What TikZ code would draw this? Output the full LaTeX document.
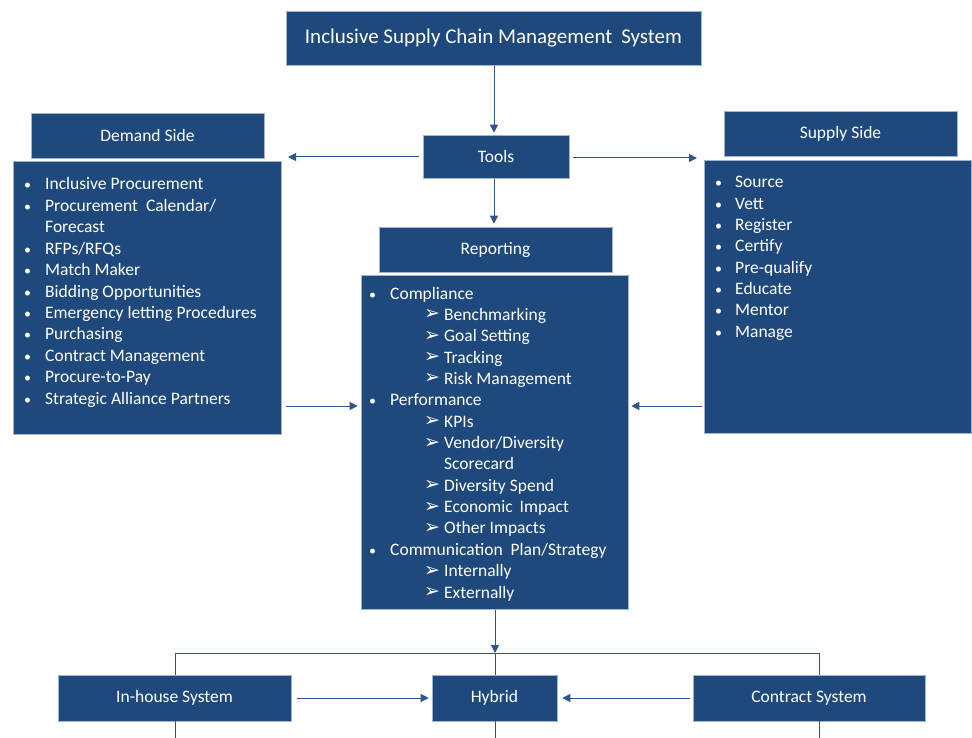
\documentclass[tikz,border=0pt]{standalone}
\usepackage{fontspec}
\setmainfont{Carlito}
\newfontfamily\djv{DejaVu Sans}
\usetikzlibrary{arrows.meta}
\definecolor{boxblue}{RGB}{31,73,125}
\definecolor{arrblue}{RGB}{47,85,140}
\definecolor{edgeblue}{RGB}{160,180,205}
\tikzset{
  box/.style={rectangle, fill=boxblue, draw=edgeblue, line width=0.6pt, text=white, inner sep=0pt, font=\fontsize{17.5}{20}\selectfont},
  arr/.style={draw=arrblue, line width=1pt, -{Triangle[width=8pt,length=8pt]}},
  ln/.style={draw=arrblue, line width=1pt},
  item/.style={anchor=base west, inner sep=0pt, text=white, font=\fontsize{17.5}{20}\selectfont},
  bul/.style={anchor=base west, inner sep=0pt, text=white, font=\fontsize{14}{18}\selectfont},
  abul/.style={anchor=base west, inner sep=0pt, text=white, font=\djv\fontsize{19}{20}\selectfont},
}
\begin{document}
\begin{tikzpicture}[x=1pt,y=-1pt]
\useasboundingbox (0,0) rectangle (972,738);
% boxes
\node[box, minimum width=415, minimum height=54, font=\fontsize{21}{24}\selectfont] (title) at (493.5,38) {Inclusive Supply Chain Management\hspace{4pt} System};
\node[box, minimum width=146, minimum height=43] (tools) at (496,156.5) {Tools};
\node[box, minimum width=233, minimum height=45] (rhead) at (495.5,249.5) {Reporting};
\node[box, minimum width=267, minimum height=334] (rbody) at (494.5,442) {};
\node[box, minimum width=233, minimum height=45] (dhead) at (147.5,135.5) {Demand Side};
\node[box, minimum width=268, minimum height=273] (dbody) at (147,297.5) {};
\node[box, minimum width=233, minimum height=45] (shead) at (840.5,133.5) {Supply Side};
\node[box, minimum width=267, minimum height=273] (sbody) at (837.5,296.5) {};
\node[box, minimum width=233, minimum height=46] (inhouse) at (174.5,698) {In-house System};
\node[box, minimum width=125, minimum height=46] (hybrid) at (494.5,698) {Hybrid};
\node[box, minimum width=232, minimum height=46] (contract) at (809,698) {Contract System};
% demand items
\foreach \k/\t in {0/{Inclusive Procurement},1/{Procurement\hspace{4pt} Calendar/},2/{Forecast},3/{RFPs/RFQs},4/{Match Maker},5/{Bidding Opportunities},6/{Emergency letting Procedures},7/{Purchasing},8/{Contract Management},9/{Procure-to-Pay},10/{Strategic Alliance Partners}}
  \node[item] (dt\k) at (45,190+21.4*\k) {\t};
\foreach \k in {0,1,3,4,5,6,7,8,9,10}
  \node[bul] (db\k) at (24,190+21.4*\k) {•};
% supply items
\foreach \k/\t in {0/{Source},1/{Vett},2/{Register},3/{Certify},4/{Pre-qualify},5/{Educate},6/{Mentor},7/{Manage}}
  {\node[item] (st\k) at (735,188+21.3*\k) {\t};
   \node[bul] (sb\k) at (715,188+21.3*\k) {•};}
% reporting items
\foreach \k/\t in {0/{Compliance},5/{Performance},12/{Communication\hspace{4pt} Plan/Strategy}}
  {\node[item] (rt\k) at (390,299+21.36*\k) {\t};
   \node[bul] (rb\k) at (369,299+21.36*\k) {•};}
\foreach \k/\t in {1/{Benchmarking},2/{Goal Setting},3/{Tracking},4/{Risk Management},6/{KPIs},7/{Vendor/Diversity},8/{Scorecard},9/{Diversity Spend},10/{Economic\hspace{3pt} Impact},11/{Other Impacts},13/{Internally},14/{Externally}}
  \node[item] (rt\k) at (444,299+21.36*\k) {\t};
\foreach \k in {1,2,3,4,6,7,9,10,11,13,14}
  \node[abul] (ra\k) at (424,298.5+21.36*\k) {➢};
% connectors
\draw[arr, shorten <=1pt, shorten >=2pt] (title.south -| 494,0) -- (tools.north -| 494,0);
\draw[arr, shorten >=3pt, shorten <=1pt] (tools.south -| 494,0) -- (rhead.north -| 494,0);
\coordinate (tdl) at (419,157);
\coordinate (tdr) at (288,157);
\draw[arr] (tdl) -- (tdr);
\coordinate (tsl) at (573,158);
\coordinate (tsr) at (697,158);
\draw[arr] (tsl) -- (tsr);
\coordinate (dr) at (286,406);
\draw[arr, shorten >=3pt] (dr) -- (rbody.west |- dr);
\coordinate (sr) at (702,406);
\draw[arr, shorten >=3pt] (sr) -- (rbody.east |- sr);
% bottom tree
\coordinate (bus) at (495,653);
\coordinate (busl) at (175,653);
\coordinate (busr) at (819,653);
\draw[arr, shorten <=1pt] (rbody.south -| bus) -- (bus);
\draw[ln] (busl) -- (busr);
\draw[ln] (busl) -- (inhouse.north -| busl);
\draw[ln] (busr) -- (contract.north -| busr);
\draw[ln] (bus) -- (hybrid.north -| bus);
\coordinate (bl) at (175,738);
\coordinate (bm) at (495,738);
\coordinate (br) at (819,738);
\draw[ln] (inhouse.south -| bl) -- (bl);
\draw[ln] (hybrid.south -| bm) -- (bm);
\draw[ln] (contract.south -| br) -- (br);
\coordinate (ih) at (297,698);
\draw[arr, shorten >=3pt] (ih) -- (hybrid.west |- ih);
\coordinate (ch) at (690,698);
\draw[arr, shorten >=5pt] (ch) -- (hybrid.east |- ch);
\end{tikzpicture}
\end{document}
